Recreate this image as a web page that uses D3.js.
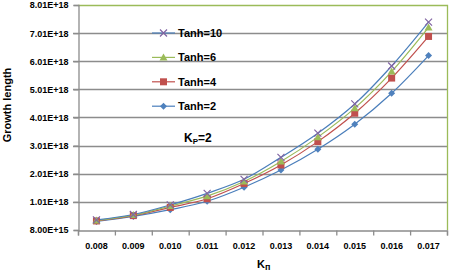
<!DOCTYPE html>
<html>
<head>
<meta charset="utf-8">
<script src="https://cdn.jsdelivr.net/npm/d3@7"></script>
<style>
  body { margin: 0; background: #fff; }
  svg { display: block; font-family: "Liberation Sans", Arial, sans-serif; }
</style>
</head>
<body>
<div id="chart"></div>
<script>
// data (growth length, in units of 1e18)
const kPi = ["0.008", "0.009", "0.010", "0.011", "0.012", "0.013", "0.014", "0.015", "0.016", "0.017"];
const tanh10 = [0.37, 0.56, 0.90, 1.31, 1.81, 2.59, 3.45, 4.49, 5.84, 7.40];
const tanh6 = [0.35, 0.54, 0.86, 1.21, 1.73, 2.44, 3.31, 4.34, 5.64, 7.21];
const tanh4 = [0.33, 0.52, 0.81, 1.12, 1.66, 2.32, 3.15, 4.16, 5.41, 6.89];
const tanh2 = [0.31, 0.49, 0.73, 1.03, 1.53, 2.14, 2.88, 3.77, 4.87, 6.21];
const yTicks = [0.008, 1.008, 2.008, 3.008, 4.008, 5.008, 6.008, 7.008, 8.008];

const series = [
  { name: "Tanh=10", values: tanh10, line: "#4a7ebb", mark: "#8064a2", shape: "x" },
  { name: "Tanh=6", values: tanh6, line: "#9bbb59", mark: "#9bbb59", shape: "tri" },
  { name: "Tanh=4", values: tanh4, line: "#c0504d", mark: "#c0504d", shape: "sq" },
  { name: "Tanh=2", values: tanh2, line: "#4a7ebb", mark: "#4f81bd", shape: "dia" },
];

const width = 449, height = 273;
const plot = { left: 78, right: 447, top: 5, bottom: 230 };

const svg = d3.select("#chart").append("svg")
  .attr("width", width)
  .attr("height", height);

const xScale = d3.scaleBand().domain(kPi).range([plot.left, plot.right]);
const xEdge = d3.scaleLinear().domain([0, kPi.length]).range([plot.left, plot.right]);
const yScale = d3.scaleLinear().domain([0.008, 8.008]).range([plot.bottom, plot.top]);
const cx = (i) => xScale(kPi[i]) + xScale.bandwidth() / 2;

// gridlines
svg.append("g")
  .selectAll("line")
  .data(yTicks.slice(1, -1))
  .join("line")
  .attr("x1", plot.left - 5)
  .attr("x2", plot.right)
  .attr("y1", (d) => Math.round(yScale(d)) + 0.5)
  .attr("y2", (d) => Math.round(yScale(d)) + 0.5)
  .attr("stroke", "#8c8c8c")
  .attr("stroke-width", 1.3);

// plot area border (top/right green)
svg.append("path")
  .attr("d", `M${plot.left},${plot.top + 0.5}H${plot.right + 0.5}V${plot.bottom}`)
  .attr("fill", "none")
  .attr("stroke", "#9bbb59")
  .attr("stroke-width", 1.3);

// y axis
const yAxis = svg.append("g")
  .attr("transform", `translate(${plot.left + 0.5},0)`)
  .call(d3.axisLeft(yScale)
    .tickValues(yTicks)
    .tickSize(5)
    .tickPadding(5)
    .tickFormat((d) => (d * 1e18).toExponential(2).toUpperCase()));
yAxis.select(".domain").attr("stroke", "#8c8c8c").attr("stroke-width", 1.3);
yAxis.selectAll(".tick line").attr("stroke", "#8c8c8c").attr("stroke-width", 1.3);
yAxis.selectAll("text")
  .attr("fill", "#000")
  .style("font-size", "9px")
  .style("font-weight", "bold");

// x axis: tick marks on category edges, labels in the middle
const xTickAxis = svg.append("g")
  .attr("transform", `translate(0,${plot.bottom + 0.5})`)
  .call(d3.axisBottom(xEdge).tickValues(d3.range(kPi.length + 1)).tickSize(5).tickFormat(""));
xTickAxis.select(".domain").attr("stroke", "#8c8c8c").attr("stroke-width", 1.3);
xTickAxis.selectAll(".tick line").attr("stroke", "#8c8c8c").attr("stroke-width", 1.3);

const xLabelAxis = svg.append("g")
  .attr("transform", `translate(0,${plot.bottom})`)
  .call(d3.axisBottom(xScale).tickSize(0).tickPadding(13));
xLabelAxis.select(".domain").remove();
xLabelAxis.selectAll("text")
  .attr("fill", "#000")
  .style("font-size", "9px")
  .style("font-weight", "bold");

// lines
const line = d3.line()
  .x((d, i) => cx(i))
  .y((d) => yScale(d))
  .curve(d3.curveCatmullRom.alpha(0.5));

const lineOrder = [series[3], series[2], series[1], series[0]];
svg.append("g")
  .selectAll("path")
  .data(lineOrder)
  .join("path")
  .attr("d", (s) => line(s.values))
  .attr("fill", "none")
  .attr("stroke", (s) => s.line)
  .attr("stroke-width", 1.2);

function drawMarker(g, shape, color, x, y) {
  if (shape === "x") {
    g.append("path")
      .attr("d", `M${x - 3.5},${y - 3.5}L${x + 3.5},${y + 3.5}M${x - 3.5},${y + 3.5}L${x + 3.5},${y - 3.5}`)
      .attr("stroke", color)
      .attr("stroke-width", 1.2)
      .attr("fill", "none");
  } else if (shape === "tri") {
    g.append("path")
      .attr("d", `M${x},${y - 4}L${x + 4},${y + 3}L${x - 4},${y + 3}Z`)
      .attr("fill", color);
  } else if (shape === "sq") {
    g.append("rect")
      .attr("x", x - 3.5)
      .attr("y", y - 3.5)
      .attr("width", 7)
      .attr("height", 7)
      .attr("fill", color);
  } else {
    g.append("path")
      .attr("d", `M${x},${y - 3.5}L${x + 3.5},${y}L${x},${y + 3.5}L${x - 3.5},${y}Z`)
      .attr("fill", color);
  }
}

// markers
const markers = svg.append("g");
lineOrder.forEach((s) => {
  s.values.forEach((v, i) => drawMarker(markers, s.shape, s.mark, cx(i), yScale(v)));
});

// legend
const legend = svg.append("g");
series.forEach((s, i) => {
  const ly = 33 + i * 24.4;
  legend.append("line")
    .attr("x1", 152).attr("x2", 175)
    .attr("y1", ly).attr("y2", ly)
    .attr("stroke", s.line)
    .attr("stroke-width", 1.2);
  drawMarker(legend, s.shape, s.mark, 163.5, ly);
  legend.append("text")
    .attr("x", 178)
    .attr("y", ly + 4)
    .text(s.name)
    .style("font-size", "11px")
    .style("font-weight", "bold");
});

// Kp=2 annotation
const kp = svg.append("text")
  .attr("x", 184)
  .attr("y", 142)
  .style("font-size", "12px")
  .style("font-weight", "bold");
kp.append("tspan").text("K");
kp.append("tspan").text("P").attr("dy", 2).style("font-size", "8px");
kp.append("tspan").text("=2").attr("dy", -2);

// axis titles
svg.append("text")
  .attr("transform", "translate(11,105) rotate(-90)")
  .attr("text-anchor", "middle")
  .text("Growth length")
  .style("font-size", "11px")
  .style("font-weight", "bold");

const xt = svg.append("text")
  .attr("x", 257)
  .attr("y", 268)
  .style("font-size", "11px")
  .style("font-weight", "bold");
xt.append("tspan").text("K");
xt.append("tspan").text("п").attr("dy", 2).style("font-size", "9px");
</script>
</body>
</html>
